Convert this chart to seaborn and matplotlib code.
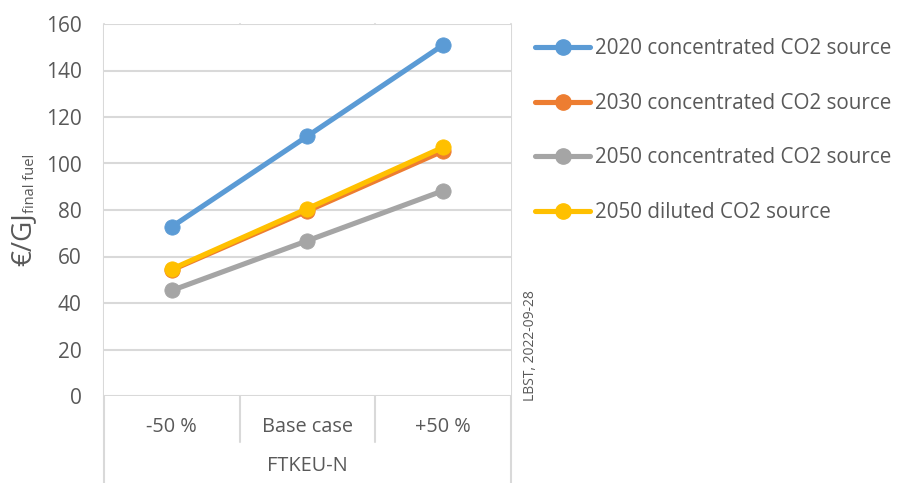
import matplotlib
matplotlib.use("Agg")
import matplotlib.pyplot as plt
import seaborn as sns
import pandas as pd
from matplotlib.lines import Line2D

# Sensitivity cases for the FTKEU-N pathway
cases = ["-50 %", "Base case", "+50 %"]
group_label = "FTKEU-N"

series_names = [
    "2020 concentrated CO2 source",
    "2030 concentrated CO2 source",
    "2050 concentrated CO2 source",
    "2050 diluted CO2 source",
]
cost_2020_conc = [72.8, 111.8, 151.0]
cost_2030_conc = [54.2, 79.6, 105.4]
cost_2050_conc = [45.4, 66.8, 88.3]
cost_2050_dil = [54.6, 80.6, 107.0]

colors = ["#5B9BD5", "#ED7D31", "#A5A5A5", "#FFC000"]

yticks = [0, 20, 40, 60, 80, 100, 120, 140, 160]

rows = []
for name, vals in zip(series_names,
                      [cost_2020_conc, cost_2030_conc, cost_2050_conc, cost_2050_dil]):
    for i, (c, v) in enumerate(zip(cases, vals)):
        rows.append({"series": name, "pos": i, "case": c, "cost": v})
df = pd.DataFrame(rows)

sns.set_style("white")
plt.rcParams["font.family"] = ["Open Sans", "DejaVu Sans"]

text_color = "#595959"
grid_color = "#D9D9D9"

W, H = 899, 483
fig = plt.figure(figsize=(W / 100, H / 100), dpi=100)
x0, x1 = 104, 511
y_top, y_zero = 24, 396
ax = fig.add_axes([x0 / W, 1 - y_zero / H, (x1 - x0) / W, (y_zero - y_top) / H])

sns.lineplot(data=df, x="pos", y="cost", hue="series", hue_order=series_names,
             palette=colors, marker="o", markersize=11, markeredgewidth=0.6,
             linewidth=3.7, ax=ax, legend=False, zorder=3)
for ln, col in zip(ax.lines, colors):
    ln.set_markeredgecolor(col)

ax.set_xlim(-0.5, 2.5)
ax.set_ylim(0, 160)
ax.set_yticks(yticks)
ax.set_yticklabels([str(t) for t in yticks], fontsize=15, color=text_color)
ax.tick_params(axis="y", length=0, pad=16)
ax.set_xticks([])
ax.set_xlabel("")
ax.set_ylabel("")
for s in ax.spines.values():
    s.set_visible(False)

# horizontal gridlines
for t in yticks:
    ax.axhline(t, color=grid_color, lw=1.5, zorder=0)


def fig_y(py):
    return 1 - py / H


# vertical separators: outer ones reach down through the group row,
# inner ones stop at the bottom of the case-label row
lines_spec = [(-0.5, 483), (0.5, 442), (1.5, 442), (2.5, 483)]
for xv, ybot in lines_spec:
    xf = ax.transData.transform((xv, 0))[0] / W
    fig.add_artist(Line2D([xf, xf], [fig_y(y_top), fig_y(ybot)],
                          color=grid_color, lw=1.5, zorder=0))

# category labels and group label
for i, c in enumerate(cases):
    xf = ax.transData.transform((i, 0))[0] / W
    fig.text(xf, fig_y(427), c, ha="center", va="center", fontsize=14.3, color=text_color)
xf = ax.transData.transform((1, 0))[0] / W
fig.text(xf, fig_y(466), group_label, ha="center", va="center", fontsize=14.3,
         color=text_color)

# y-axis title with subscript unit
fig.text(23 / W, fig_y(266), "€/GJ", rotation=90, ha="center", va="bottom",
         fontsize=20, color=text_color)
fig.text(31 / W, fig_y(213), "final fuel", rotation=90, ha="center", va="bottom",
         fontsize=10.5, color=text_color)

# source stamp
fig.text(530 / W, fig_y(346), "LBST, 2022-09-28", rotation=90, ha="center", va="center",
         fontsize=10, color=text_color)

handles = [Line2D([0], [0], color=c, lw=3.7, marker="o", markersize=11) for c in colors]
fig.legend(handles, series_names, loc="upper left",
           bbox_to_anchor=(527 / W, fig_y(30)), bbox_transform=fig.transFigure,
           frameon=False, fontsize=14.9, labelcolor=text_color,
           handlelength=2.65, handletextpad=0.22, labelspacing=1.62, borderaxespad=0)

fig.savefig("out.png", dpi=100)
